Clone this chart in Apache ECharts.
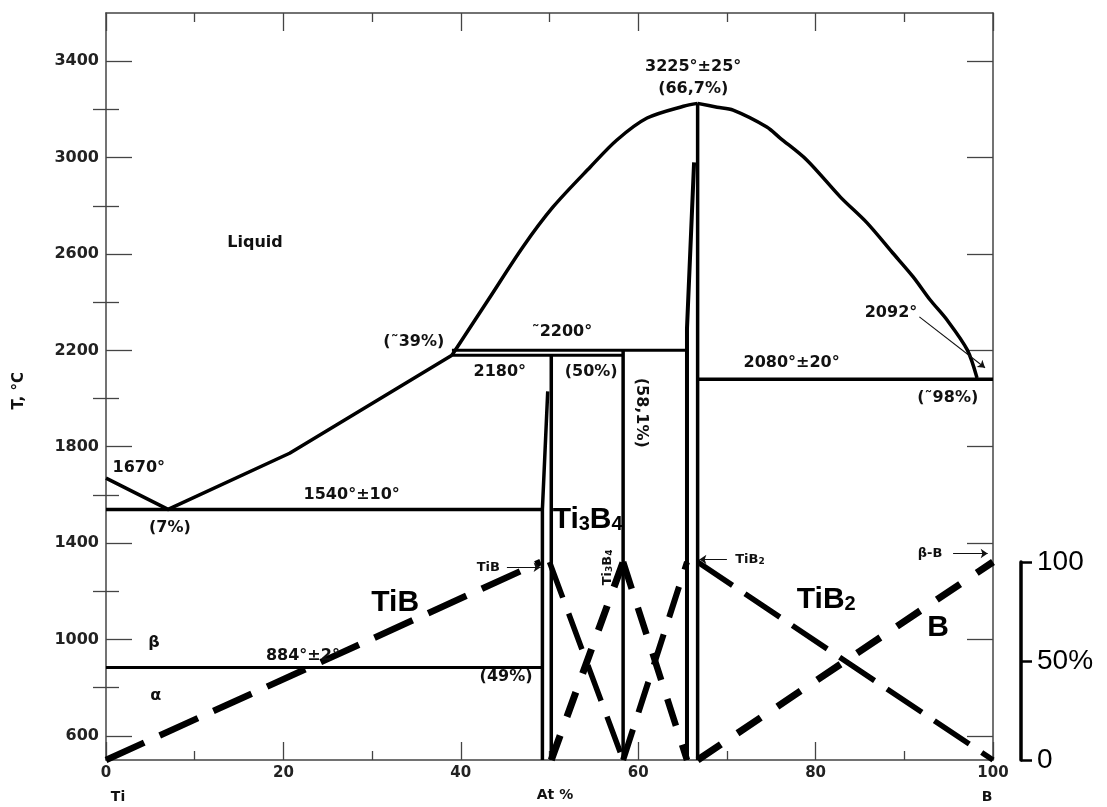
<!DOCTYPE html>
<html><head><meta charset="utf-8">
<script src="https://cdn.jsdelivr.net/npm/echarts@6/dist/echarts.min.js"></script>
<style>html,body{margin:0;padding:0;background:#fff}#c{width:1107px;height:807px}</style>
</head><body><div id="c"></div>
<script>
// ---- axis ticks ----
const xTicks = [0, 20, 40, 60, 80, 100];
const tMajor = [600, 1000, 1400, 1800, 2200, 2600, 3000, 3400];
const tMinor = [800, 1200, 1600, 2000, 2400, 2800, 3200];
const pctTicks = [0, 50, 100];

// ---- phase boundaries [at% B, T °C] ----
const liquidusTi = [[0,1670],[7,1540],[20.7,1773],[39,2180]];
const liquidusTiB2Left = [[39,2180],[43.1,2410],[47.0,2629],[50.4,2795],[54.6,2961],[57.6,3073],[61.0,3164],[65.1,3213],[66.7,3225]];
const liquidusTiB2Right = [[66.7,3225],[68.9,3209],[70.7,3197],[74.5,3127],[76.0,3081],[79.0,2990],[82.8,2836],[85.8,2729],[88.7,2604],[91.0,2505],[92.9,2410],[94.8,2327],[97.1,2202],[98.2,2085]];
const eutectic1540 = [[0,1540],[49.2,1540]];
const transus884 = [[0,884],[49.2,884]];
const peritectic2180 = [[39,2180],[58.3,2180]];
const peritectic2200 = [[39,2200],[65.5,2200]];
const eutectic2080 = [[66.7,2080],[100,2080]];
const tibLeft = [[49.2,500],[49.2,1540],[49.8,2030]];
const tibRight = [[50.2,500],[50.2,2180]];
const ti3b4Line = [[58.3,500],[58.3,2200]];
const tib2Left = [[65.5,500],[65.5,2290],[66.3,2980]];
const tib2Right = [[66.7,500],[66.7,3225]];

// ---- phase fractions [at% B, %] ----
const fracTiB_a = [[0,0],[49,100]];
const fracTiB_b = [[50,100],[58.3,0]];
const fracTi3B4_a = [[50.2,0],[58.3,100]];
const fracTi3B4_b = [[58.3,100],[65.5,0]];
const fracTiB2_a = [[58.3,0],[65.5,100]];
const fracTiB2_b = [[66.7,100],[100,0]];
const fracB = [[66.7,0],[100,100]];

// ---- annotations [at% B, T, text, kind, rotate] ----
const annotations = [
  [16.8, 2646, 'Liquid', 'n', 0],
  [66.2, 3375, '3225°±25°', 'n', 0],
  [66.2, 3284, '(66,7%)', 'n', 0],
  [51.4, 2277, '˜2200°', 'n', 0],
  [34.7, 2236, '(˜39%)', 'n', 0],
  [44.4, 2111, '2180°', 'n', 0],
  [54.7, 2111, '(50%)', 'n', 0],
  [60.3, 1941, '(58,1%)', 'n', -90],
  [77.3, 2148, '2080°±20°', 'n', 0],
  [88.5, 2356, '2092°', 'n', 0],
  [94.9, 2003, '(˜98%)', 'n', 0],
  [3.7, 1713, '1670°', 'n', 0],
  [7.2, 1465, '(7%)', 'n', 0],
  [27.7, 1601, '1540°±10°', 'n', 0],
  [22.2, 934, '884°±2°', 'n', 0],
  [5.4, 988, 'β', 'n', 0],
  [5.6, 768, 'α', 'n', 0],
  [45.1, 847, '(49%)', 'n', 0],
  [43.1, 1299, 'TiB', 's', 0],
  [56.6, 1299, 'Ti{ss|3}B{ss|4}', 's', 90],
  [72.6, 1332, 'TiB{ss|2}', 's', 0],
  [92.9, 1357, 'β-B', 's', 0],
  [32.6, 1154, 'TiB', 'big', 0],
  [54.3, 1498, 'Ti{sb|3}B{sb|4}', 'big', 0],
  [81.2, 1166, 'TiB{sb|2}', 'big', 0],
  [93.8, 1050, 'B', 'big', 0]
];
// arrows [from, to]
const arrows = [
  [[45.2,1300],[49.0,1300]],
  [[70.0,1332],[66.9,1332]],
  [[95.5,1357],[99.4,1357]],
  [[91.7,2339],[99.1,2128]]
];

const INK = '#000';
const AX = '#444';
const TXT = '#111';
const chart = echarts.init(document.getElementById('c'), null, {renderer: 'canvas'});

function solid(data, w, smooth) {
  return {type: 'line', xAxisIndex: 0, yAxisIndex: 0, data: data, symbol: 'none', silent: true,
    smooth: smooth || false,
    lineStyle: {color: INK, width: w || 3.5, cap: 'butt', join: 'round'}, animation: false, z: 3};
}
function dashed(data, w, dash) {
  return {type: 'line', xAxisIndex: 2, yAxisIndex: 4, data: data, symbol: 'none', silent: true,
    lineStyle: {color: '#000', width: w, type: dash, cap: 'butt'}, animation: false, z: 4};
}

const styles = {
  n: {fontFamily: 'DejaVu Sans', fontWeight: 'bold', fontSize: 16, color: TXT},
  s: {fontFamily: 'DejaVu Sans', fontWeight: 'bold', fontSize: 13, color: TXT},
  big: {fontFamily: 'Liberation Sans', fontWeight: 'bold', fontSize: 30, color: '#000'}
};
const rich = {
  ss: {fontFamily: 'DejaVu Sans', fontWeight: 'bold', fontSize: 9, color: TXT, verticalAlign: 'bottom', lineHeight: 10},
  sb: {fontFamily: 'Liberation Sans', fontWeight: 'bold', fontSize: 20, color: '#000', verticalAlign: 'bottom', lineHeight: 18}
};

const labelSeries = {
  type: 'scatter', xAxisIndex: 0, yAxisIndex: 0, symbolSize: 0, silent: true, animation: false, z: 6,
  data: annotations.map(a => ({
    value: [a[0], a[1]],
    label: Object.assign({show: true, position: 'inside', formatter: a[2], rotate: a[4],
      align: 'center', verticalAlign: 'middle', textBorderWidth: 0, opacity: 1, rich: rich}, styles[a[3]])
  }))
};
const arrowSeries = {
  type: 'lines', coordinateSystem: 'cartesian2d', xAxisIndex: 0, yAxisIndex: 0, silent: true, animation: false, z: 6,
  symbol: ['none', 'arrow'], symbolSize: 7,
  lineStyle: {color: '#111', width: 1.1, opacity: 1},
  data: arrows.map(a => ({coords: a}))
};

const plain = v => String(v);
const xBase = {type: 'value', min: 0, max: 100, interval: 20, splitLine: {show: false}};
const option = {
  backgroundColor: '#fff',
  animation: false,
  grid: [
    {left: 106, right: 114, top: 13, bottom: 47, show: false},
    {left: 106, right: 114, top: 562, bottom: 47, show: false}
  ],
  xAxis: [
    Object.assign({}, xBase, {gridIndex: 0, position: 'bottom',
      axisLine: {show: true, onZero: false, lineStyle: {color: AX, width: 1.5}},
      axisTick: {show: true, inside: true, length: 18, lineStyle: {color: AX, width: 1.3}},
      minorTick: {show: true, splitNumber: 2, length: 9, lineStyle: {color: AX, width: 1.3}},
      axisLabel: {show: true, margin: 6, fontFamily: 'DejaVu Sans', fontWeight: 'bold', fontSize: 15, color: '#222',
        customValues: xTicks, formatter: plain}}),
    Object.assign({}, xBase, {gridIndex: 0, position: 'top',
      axisLine: {show: true, onZero: false, lineStyle: {color: AX, width: 1.5}},
      axisTick: {show: true, inside: true, length: 18, lineStyle: {color: AX, width: 1.3}},
      minorTick: {show: true, splitNumber: 2, length: 9, lineStyle: {color: AX, width: 1.3}},
      axisLabel: {show: false}}),
    Object.assign({}, xBase, {gridIndex: 1, show: false})
  ],
  yAxis: [
    {type: 'value', gridIndex: 0, min: 500, max: 3600, position: 'left', splitLine: {show: false},
      axisLine: {show: true, onZero: false, lineStyle: {color: AX, width: 1.5}},
      axisTick: {show: true, inside: true, length: 26, customValues: tMajor, lineStyle: {color: AX, width: 1.3}},
      axisLabel: {show: true, margin: 7, customValues: tMajor, formatter: plain, fontFamily: 'DejaVu Sans', fontWeight: 'bold', fontSize: 16, color: '#222'}},
    {type: 'value', gridIndex: 0, min: 500, max: 3600, position: 'left', splitLine: {show: false},
      axisLine: {show: false},
      axisTick: {show: true, inside: true, length: 13, customValues: tMinor, lineStyle: {color: AX, width: 1.3}},
      axisLabel: {show: false}},
    {type: 'value', gridIndex: 0, min: 500, max: 3600, position: 'right', splitLine: {show: false},
      axisLine: {show: true, onZero: false, lineStyle: {color: AX, width: 1.5}},
      axisTick: {show: true, inside: true, length: 26, customValues: tMajor, lineStyle: {color: AX, width: 1.3}},
      axisLabel: {show: false}},
    {type: 'value', gridIndex: 0, min: 500, max: 3600, position: 'right', splitLine: {show: false},
      axisLine: {show: false},
      axisTick: {show: true, inside: true, length: 13, customValues: tMinor, lineStyle: {color: AX, width: 1.3}},
      axisLabel: {show: false}},
    {type: 'value', gridIndex: 1, min: 0, max: 100, position: 'right', offset: 28, splitLine: {show: false},
      axisLine: {show: true, onZero: false, lineStyle: {color: '#000', width: 3.5}},
      axisTick: {show: true, inside: false, length: 11, customValues: pctTicks, lineStyle: {color: '#000', width: 2.5}},
      axisLabel: {show: true, margin: 16, customValues: pctTicks, fontFamily: 'Liberation Sans', fontSize: 28, color: '#000',
        formatter: v => (v === 50 ? '50%' : String(v))}}
  ],
  graphic: [
    {type: 'text', left: 12, top: 372, rotation: Math.PI / 2, style: {text: 'T, °C', font: 'bold 15px "DejaVu Sans"', fill: '#111'}, silent: true},
    {type: 'text', x: 118, y: 797, style: {text: 'Ti', font: 'bold 14px "DejaVu Sans"', fill: '#111', align: 'center', verticalAlign: 'middle'}, silent: true},
    {type: 'text', x: 555, y: 795, style: {text: 'At %', font: 'bold 14px "DejaVu Sans"', fill: '#111', align: 'center', verticalAlign: 'middle'}, silent: true},
    {type: 'text', x: 987, y: 797, style: {text: 'B', font: 'bold 14px "DejaVu Sans"', fill: '#111', align: 'center', verticalAlign: 'middle'}, silent: true}
  ],
  series: [
    solid(liquidusTi), solid(liquidusTiB2Left, 3.5, 0.3), solid(liquidusTiB2Right, 3.5, 0.3),
    solid(eutectic1540), solid(transus884, 3), solid(peritectic2180, 3), solid(peritectic2200, 3), solid(eutectic2080),
    solid(tibLeft, 3.5), solid(tibRight, 3.5), solid(ti3b4Line, 3.5), solid(tib2Left, 4), solid(tib2Right, 3.5),
    dashed(fracTiB_a, 6.5, [42, 17]),
    dashed(fracTiB_b, 5.5, [38, 17]),
    dashed(fracTi3B4_a, 7, [26, 20]),
    dashed(fracTi3B4_b, 6.5, [28, 20]),
    dashed(fracTiB2_a, 6, [32, 18]),
    dashed(fracTiB2_b, 5.5, [42, 15]),
    dashed(fracB, 7, [28, 20]),
    labelSeries, arrowSeries
  ]
};
chart.setOption(option);
</script></body></html>
